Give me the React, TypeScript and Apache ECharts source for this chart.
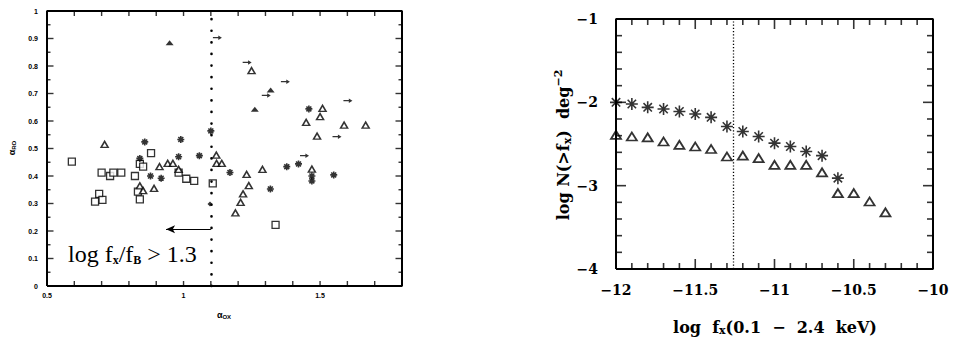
import React, { useEffect, useRef } from "react";
import * as echarts from "echarts";

// ---------- Left panel: alpha_RO vs alpha_OX ----------
const leftSquares: [number, number][] = [
  [0.591, 0.452], [0.7, 0.412], [0.731, 0.4], [0.743, 0.412], [0.772, 0.412],
  [0.822, 0.4], [0.881, 0.483], [0.84, 0.444], [0.852, 0.434], [0.691, 0.335],
  [0.703, 0.313], [0.676, 0.307], [0.833, 0.343], [0.84, 0.315], [0.982, 0.412],
  [1.01, 0.39], [1.039, 0.382], [1.107, 0.373], [1.337, 0.222],
];
const leftTriangles: [number, number][] = [
  [0.711, 0.515], [0.912, 0.434], [0.942, 0.446], [0.961, 0.446], [0.84, 0.364],
  [0.852, 0.347], [0.892, 0.355], [0.982, 0.424], [1.12, 0.476], [1.121, 0.446],
  [1.14, 0.446], [1.231, 0.406], [1.289, 0.424], [1.239, 0.365], [1.218, 0.335],
  [1.209, 0.304], [1.19, 0.266], [1.249, 0.783], [1.509, 0.646], [1.5, 0.616],
  [1.449, 0.595], [1.588, 0.585], [1.667, 0.585], [1.489, 0.545], [1.47, 0.425],
];
const leftAsterisks: [number, number][] = [
  [0.858, 0.524], [0.84, 0.464], [0.879, 0.4], [0.918, 0.392], [0.99, 0.533],
  [0.982, 0.47], [1.058, 0.474], [1.1, 0.564], [1.17, 0.413], [1.318, 0.353],
  [1.459, 0.644], [1.378, 0.434], [1.421, 0.444], [1.47, 0.4], [1.47, 0.382],
  [1.55, 0.404],
];
const leftFilledTriangles: [number, number][] = [
  [0.949, 0.885], [1.319, 0.713], [1.261, 0.643],
];
const leftLowerLimits: [number, number][] = [
  [1.124, 0.903], [1.233, 0.813], [1.303, 0.693], [1.373, 0.743],
  [1.602, 0.674], [1.562, 0.543], [1.443, 0.474],
];
const leftDiamonds: [number, number][] = [[1.097, 0.298]];
const leftCut = 1.1;
const leftArrowY = 0.206;
const leftArrowEnd = 0.936;

// left axis ranges and ticks
const leftXRange = [0.5, 1.8];
const leftYRange = [0, 1];
const leftXTicks = [0.5, 0.6, 0.7, 0.8, 0.9, 1.0, 1.1, 1.2, 1.3, 1.4, 1.5, 1.6, 1.7, 1.8];
const leftYMajor = [0, 0.1, 0.2, 0.3, 0.4, 0.5, 0.6, 0.7, 0.8, 0.9, 1];
const leftYMinor = [0.05, 0.15, 0.25, 0.35, 0.45, 0.55, 0.65, 0.75, 0.85, 0.95];
const leftXLabels: Record<string, string> = { "0.5": "0.5", "1.0": "1", "1.5": "1.5" };

// ---------- Right panel: log N(>fx) ----------
const fluxStar = [-12, -11.9, -11.8, -11.7, -11.6, -11.5, -11.4, -11.3, -11.2, -11.1, -11.0, -10.9, -10.8, -10.7, -10.6];
const logNStar = [-2.0, -2.02, -2.06, -2.08, -2.11, -2.14, -2.18, -2.29, -2.35, -2.41, -2.49, -2.53, -2.59, -2.64, -2.91];
const fluxTri = [-12, -11.9, -11.8, -11.7, -11.6, -11.5, -11.4, -11.3, -11.2, -11.1, -11.0, -10.9, -10.8, -10.7, -10.6, -10.5, -10.4, -10.3];
const logNTri = [-2.39, -2.41, -2.42, -2.47, -2.51, -2.53, -2.56, -2.65, -2.64, -2.67, -2.75, -2.75, -2.75, -2.84, -3.09, -3.09, -3.19, -3.32];
const rightCut = -11.26;

// right axis ranges and ticks
const rightXRange = [-12, -10];
const rightYRange = [-4, -1];
const rightXMajor = [-12, -11.5, -11, -10.5, -10];
const rightXMinor = [-11.9, -11.8, -11.7, -11.6, -11.4, -11.3, -11.2, -11.1, -10.9, -10.8, -10.7, -10.6, -10.4, -10.3, -10.2, -10.1];
const rightYMajor = [-4, -3, -2, -1];
const rightYMinor = [-3.8, -3.6, -3.4, -3.2, -2.8, -2.6, -2.4, -2.2, -1.8, -1.6, -1.4, -1.2];

const ASTERISK = "path://M5,0L5,10M0,5L10,5M1.5,1.5L8.5,8.5M8.5,1.5L1.5,8.5";
const ARROW = "path://M0,3L6,3L6,0L10,4L6,8L6,5L0,5Z";
const BLACK = "#000";

const leftLabelStyle = { fontFamily: "Liberation Sans", fontWeight: "bold", fontSize: 7, color: BLACK };
const rightLabelStyle = { fontFamily: "DejaVu Serif", fontWeight: "bold", fontSize: 14, color: BLACK };
const minus = (v: number) => String(v).replace("-", "\u2212");

// frame of a panel, drawn along the axis extents
function frameSeries(idx: number, xr: number[], yr: number[]) {
  return {
    type: "line", xAxisIndex: idx, yAxisIndex: idx, silent: true, clip: false, z: 6,
    symbol: "none", animation: false,
    data: [[xr[0], yr[0]], [xr[1], yr[0]], [xr[1], yr[1]], [xr[0], yr[1]], [xr[0], yr[0]]],
    lineStyle: { color: BLACK, width: 2 },
  };
}

// inside tick marks along the four sides of a panel
function tickSeries(idx: number, xr: number[], yr: number[], xs: number[], ys: number[], len: number, w: number) {
  const base = {
    type: "scatter", xAxisIndex: idx, yAxisIndex: idx, silent: true, clip: false, z: 6,
    symbol: "rect", itemStyle: { color: BLACK },
  };
  const out: any[] = [];
  if (xs.length) {
    out.push({ ...base, data: xs.map((v) => [v, yr[0]]), symbolSize: [w, len], symbolOffset: [0, -len / 2] });
    out.push({ ...base, data: xs.map((v) => [v, yr[1]]), symbolSize: [w, len], symbolOffset: [0, len / 2] });
  }
  if (ys.length) {
    out.push({ ...base, data: ys.map((v) => [xr[0], v]), symbolSize: [len, w], symbolOffset: [len / 2, 0] });
    out.push({ ...base, data: ys.map((v) => [xr[1], v]), symbolSize: [len, w], symbolOffset: [-len / 2, 0] });
  }
  return out;
}

function buildOption(): any {
  const labelAxis = (gridIndex: number, extra: any) => ({
    type: "value",
    gridIndex,
    axisLine: { show: false, onZero: false },
    axisTick: { show: false },
    splitLine: { show: false },
    ...extra,
  });
  return {
    animation: false,
    backgroundColor: "#fff",
    grid: [
      { left: 47, top: 11, width: 355, height: 275 },
      { left: 616, top: 19, width: 317, height: 250 },
    ],
    xAxis: [
      labelAxis(0, {
        min: leftXRange[0], max: leftXRange[1], interval: 0.1, position: "bottom",
        axisLabel: { ...leftLabelStyle, margin: 6, formatter: (v: number) => leftXLabels[v.toFixed(1)] || "" },
      }),
      labelAxis(1, {
        min: rightXRange[0], max: rightXRange[1], interval: 0.5, position: "bottom",
        axisLabel: { ...rightLabelStyle, margin: 14, formatter: minus },
      }),
    ],
    yAxis: [
      labelAxis(0, {
        min: leftYRange[0], max: leftYRange[1], interval: 0.1, position: "left",
        axisLabel: { ...leftLabelStyle, margin: 9, formatter: (v: number) => (v === 0 ? "0" : v === 1 ? "1" : v.toFixed(1)) },
      }),
      labelAxis(1, {
        min: rightYRange[0], max: rightYRange[1], interval: 1, position: "left",
        axisLabel: { ...rightLabelStyle, margin: 18, formatter: minus },
      }),
    ],
    series: [
      frameSeries(0, leftXRange, leftYRange),
      ...tickSeries(0, leftXRange, leftYRange, leftXTicks, leftYMajor.slice(1, -1), 5, 1.4).slice(0, 2),
      ...tickSeries(0, leftXRange, leftYRange, [], leftYMajor.slice(1, -1), 6.5, 1.4),
      ...tickSeries(0, leftXRange, leftYRange, [], leftYMinor, 3.5, 1.4),
      frameSeries(1, rightXRange, rightYRange),
      ...tickSeries(1, rightXRange, rightYRange, rightXMajor.slice(1, -1), rightYMajor.slice(1, -1), 10, 1.6),
      ...tickSeries(1, rightXRange, rightYRange, rightXMinor, rightYMinor, 6, 1.6),
      {
        type: "scatter", xAxisIndex: 0, yAxisIndex: 0, data: leftSquares,
        symbol: "rect", symbolSize: 7, clip: false,
        itemStyle: { color: "#fff", borderColor: BLACK, borderWidth: 1.3 },
      },
      {
        type: "scatter", xAxisIndex: 0, yAxisIndex: 0, data: leftTriangles,
        symbol: "triangle", symbolSize: [7, 6], clip: false,
        itemStyle: { color: "#fff", borderColor: BLACK, borderWidth: 1.5 },
      },
      {
        type: "scatter", xAxisIndex: 0, yAxisIndex: 0, data: leftAsterisks,
        symbol: ASTERISK, symbolSize: 7, clip: false,
        itemStyle: { color: BLACK, borderColor: BLACK, borderWidth: 1.6 },
      },
      {
        type: "scatter", xAxisIndex: 0, yAxisIndex: 0, data: leftFilledTriangles,
        symbol: "triangle", symbolSize: [8, 5], clip: false,
        itemStyle: { color: BLACK },
      },
      {
        type: "scatter", xAxisIndex: 0, yAxisIndex: 0, data: leftLowerLimits,
        symbol: ARROW, symbolSize: [9, 4.5], clip: false,
        itemStyle: { color: BLACK },
        markLine: {
          silent: true, animation: false, label: { show: false },
          symbol: ["none", "arrow"], symbolSize: [6, 9],
          lineStyle: { color: BLACK, width: 1, type: "solid" },
          data: [[{ coord: [leftCut, leftArrowY] }, { coord: [leftArrowEnd, leftArrowY] }]],
        },
      },
      {
        type: "scatter", xAxisIndex: 0, yAxisIndex: 0, data: leftDiamonds,
        symbol: "diamond", symbolSize: 5, clip: false,
        itemStyle: { color: BLACK },
        markLine: {
          silent: true, animation: false, label: { show: false }, symbol: "none",
          lineStyle: { color: BLACK, width: 2.6, type: [0.1, 11.5], cap: "round" },
          data: [{ xAxis: leftCut }],
        },
      },
      {
        type: "scatter", xAxisIndex: 1, yAxisIndex: 1,
        data: fluxStar.map((f, i) => [f, logNStar[i]]),
        symbol: ASTERISK, symbolSize: 12, clip: false,
        itemStyle: { color: BLACK, borderColor: BLACK, borderWidth: 1.6 },
        markLine: {
          silent: true, animation: false, label: { show: false }, symbol: "none",
          lineStyle: { color: BLACK, width: 1.3, type: [1.2, 2] },
          data: [{ xAxis: rightCut }],
        },
      },
      {
        type: "scatter", xAxisIndex: 1, yAxisIndex: 1,
        data: fluxTri.map((f, i) => [f, logNTri[i]]),
        symbol: "triangle", symbolSize: [10, 8], clip: false,
        itemStyle: { color: "#fff", borderColor: BLACK, borderWidth: 1.8 },
      },
    ],
    graphic: [
      {
        type: "text", x: 68, y: 254,
        style: {
          text: "{m|log f}{s|x}{m|/f}{s|B}{m| > 1.3}",
          verticalAlign: "middle",
          rich: {
            m: { fontFamily: "Liberation Serif", fontSize: 24, fill: BLACK, lineHeight: 24 },
            s: { fontFamily: "Liberation Serif", fontSize: 12, fontWeight: "bold", fill: BLACK, lineHeight: 10, verticalAlign: "bottom" },
          },
        },
      },
      {
        type: "text", x: 12, y: 148, rotation: Math.PI / 2,
        style: {
          text: "{a|\u03b1}{b|RO}", align: "center", verticalAlign: "middle",
          rich: {
            a: { fontFamily: "Liberation Sans", fontWeight: "bold", fontSize: 9, fill: BLACK },
            b: { fontFamily: "Liberation Sans", fontWeight: "bold", fontSize: 6, fill: BLACK, verticalAlign: "bottom", lineHeight: 6 },
          },
        },
      },
      {
        type: "text", x: 224, y: 315,
        style: {
          text: "{a|\u03b1}{b|OX}", align: "center", verticalAlign: "middle",
          rich: {
            a: { fontFamily: "Liberation Sans", fontWeight: "bold", fontSize: 9, fill: BLACK },
            b: { fontFamily: "Liberation Sans", fontWeight: "bold", fontSize: 6, fill: BLACK, verticalAlign: "bottom", lineHeight: 6 },
          },
        },
      },
      {
        type: "text", x: 775, y: 327,
        style: {
          text: "{m|log  f}{s|x}{m|(0.1  \u2212  2.4  keV)}", align: "center", verticalAlign: "middle",
          rich: {
            m: { fontFamily: "DejaVu Serif", fontWeight: "bold", fontSize: 16, fill: BLACK, lineHeight: 18 },
            s: { fontFamily: "DejaVu Serif", fontWeight: "bold", fontSize: 11, fill: BLACK, lineHeight: 10, verticalAlign: "bottom" },
          },
        },
      },
      {
        type: "text", x: 563, y: 145, rotation: Math.PI / 2,
        style: {
          text: "{m|log N(>f}{s|x}{m|)  deg}{p|\u22122}", align: "center", verticalAlign: "middle",
          rich: {
            m: { fontFamily: "DejaVu Serif", fontWeight: "bold", fontSize: 16, fill: BLACK, lineHeight: 20 },
            s: { fontFamily: "DejaVu Serif", fontWeight: "bold", fontSize: 11, fill: BLACK, lineHeight: 10, verticalAlign: "bottom" },
            p: { fontFamily: "DejaVu Serif", fontWeight: "bold", fontSize: 11, fill: BLACK, lineHeight: 10, verticalAlign: "top" },
          },
        },
      },
    ],
  };
}

export default function App() {
  const ref = useRef<HTMLDivElement>(null);
  useEffect(() => {
    if (!ref.current) return;
    const chart = echarts.init(ref.current, undefined, { renderer: "svg" });
    chart.setOption(buildOption());
    return () => chart.dispose();
  }, []);
  return (
    <div
      ref={ref}
      style={{ position: "absolute", left: 0, top: 0, width: 955, height: 344, background: "#fff" }}
    />
  );
}
